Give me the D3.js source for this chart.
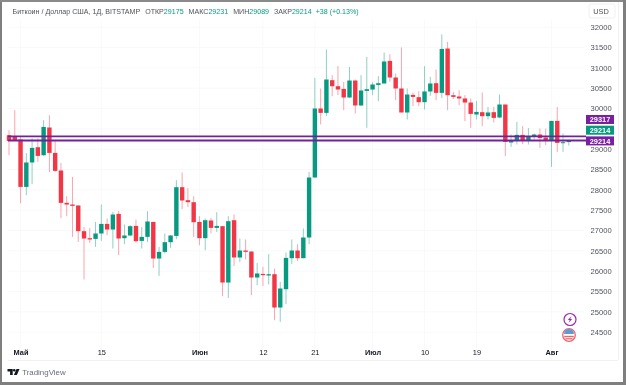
<!DOCTYPE html>
<html><head><meta charset="utf-8">
<script src="https://cdn.jsdelivr.net/npm/d3@7"></script>
<style>
html,body{margin:0;padding:0;background:#fff}
svg{display:block;filter:blur(0.3px)}
text{font-family:"Liberation Sans",Arial,sans-serif}
</style></head><body><svg id="c" width="626" height="385"></svg>
<script>
const opens=[29344,29303,29239,28073,28673,29049,28852,29534,28909,28476,
27680,27640,27616,26984,26812,26794,26927,27163,27025,27409,
26812,26878,27114,26745,26844,27212,26312,26475,26713,26868,
28066,27746,27697,27212,26812,27247,27065,27107,25722,27254,
26337,26509,26484,25845,25934,25894,25926,25107,25557,26320,
26509,26320,26829,28304,30001,29893,30697,30549,30483,30271,
30689,30075,30434,30468,30581,30616,31171,30763,30493,29903,
30335,30279,30156,30419,30623,30385,31476,30328,30296,30247,
30148,29853,29910,29812,29910,29780,30099,29165,29214,29352,
29214,29320,29362,29288,29214,29696,29155,29175];
const closes=[29204,29221,28073,28673,29032,28835,29548,28909,28467,27680,
27640,27606,26984,26804,26780,26927,27163,27025,27394,26804,
26878,27107,26738,26844,27222,26312,26475,26713,26878,28066,
27739,27697,27205,26812,27254,27065,27114,25722,27230,26337,
26509,26475,25845,25944,25902,25926,25107,25575,26327,26509,
26320,26829,28304,30001,29893,30714,30549,30468,30271,30689,
30075,30444,30476,30591,30623,31157,30763,30493,29903,30345,
30286,30156,30419,30616,30385,31466,30328,30286,30247,30148,
29868,29917,29812,29903,29770,30099,29179,29214,29352,29214,
29320,29362,29271,29214,29696,29155,29172,29214];
const highs=[29467,29959,29303,28902,29271,29271,29713,29836,29204,28663,
27844,28319,27623,27089,27057,27212,27640,27296,27458,27483,
27148,27131,27271,27089,27476,27212,26598,26927,26885,28238,
28427,28048,27844,27353,27296,27311,27451,27107,27353,27394,
26804,26780,26484,26204,26106,26418,26066,25737,26460,26780,
26664,27050,28442,30753,30493,31452,30820,31048,30655,31024,
30714,30820,31270,30655,30795,31378,31336,30862,31501,30493,
30394,30426,31041,30778,30960,31821,31639,30409,30451,30328,
30247,30188,30394,30040,30040,30345,30099,29362,29671,29566,
29524,29386,29509,29509,29696,30040,29386,29231];
const lows=[28852,29221,27672,27869,28139,28688,28835,28434,28442,27303,
27353,26844,26721,25796,26696,26598,26745,26885,26558,26394,
26664,26861,26706,26558,26721,26081,25884,26435,26573,26787,
27525,27581,26844,26639,26516,26927,26967,25385,25344,26131,
26229,26288,25410,25656,25639,25673,24795,24754,25188,26180,
26253,26320,26664,28304,29607,29812,30303,30328,29959,30262,
29878,30057,29524,30328,30180,30616,30655,30205,29903,29730,
30057,30057,29976,30311,30205,30262,29959,30230,30082,29689,
29524,29730,29566,29730,29657,29762,28828,29057,29116,29123,
29116,29239,29032,29098,28565,28934,28934,29089];
const gridTicks=[24500,25000,25500,26000,26500,27000,27500,28000,28500,29000,29500,30000,30500,31000,31500,32000];
const priceTicks=[24500,25000,25500,26000,26500,27000,27500,28000,28500,29000,30000,30500,31000,31500,32000];
const dateTickIndex=[2,16,33,44,53,63,72,81,94];
const dateTickLabels=["Май","15","Июн","12","21","Июл","10","19","Авг"];
const boldDateLabels=["Май","Июн","Июл","Авг"];
const levelLines=[29317,29214];
const priceTags=[{label:"29317",fill:"#7b1fa2"},{label:"29214",fill:"#089981"},{label:"29214",fill:"#7b1fa2"}];
const headerParts=[["Биткоин / Доллар США, 1Д, BITSTAMP","#50535e",0],["ОТКР","#50535e",5],["29175","#089981",0],["МАКС","#50535e",5],["29231","#089981",0],["МИН","#50535e",5],["29089","#089981",0],["ЗАКР","#50535e",5],["29214","#089981",0],["+38 (+0.13%)","#089981",4]];

const UP="#089981",DOWN="#f23645",UPW="#8fd0c4",DOWNW="#f7a6ae",PURPLE="#74209c";
const svg=d3.select("#c");
const y=d3.scaleLinear().domain([24500,32000]).range([332.2,27.2]);
const x=d3.scaleLinear().domain([0,97]).range([9,568.8]);
const idx=d3.range(opens.length);

// outer frame
svg.append("rect").attr("width",626).attr("height",385).attr("fill","#fff");
svg.append("rect").attr("x",0).attr("y",0).attr("width",2).attr("height",385).attr("fill","#7f7f7f");
svg.append("rect").attr("x",0).attr("y",0).attr("width",626).attr("height",2).attr("fill","#8a8a8a");
svg.append("rect").attr("x",0).attr("y",382).attr("width",626).attr("height",3).attr("fill","#7f7f7f");
svg.append("rect").attr("x",623).attr("y",0).attr("width",3).attr("height",385).attr("fill","#7f7f7f");

// grid
const plotL=8,plotR=584,plotT=20,plotB=360;
const g=svg.append("g");
g.selectAll("line.h").data(gridTicks).join("line").attr("class","h")
 .attr("x1",plotL).attr("x2",plotR).attr("y1",d=>y(d)).attr("y2",d=>y(d)).attr("stroke","#f8f9fb");
g.selectAll("line.v").data(dateTickIndex).join("line").attr("class","v")
 .attr("x1",d=>x(d)).attr("x2",d=>x(d)).attr("y1",plotT).attr("y2",plotB).attr("stroke","#f8f9fb");
svg.append("line").attr("x1",plotL).attr("x2",618).attr("y1",plotB+0.5).attr("y2",plotB+0.5).attr("stroke","#f0f1f3");
svg.append("line").attr("x1",618.5).attr("x2",618.5).attr("y1",2).attr("y2",plotB).attr("stroke","#f0f1f3");
svg.append("rect").attr("x",589).attr("y",4).attr("width",26).attr("height",14).attr("rx",2).attr("fill","#fff").attr("stroke","#f0f1f3");

// candles
const bw=4.4;
const isUp=i=>closes[i]>=opens[i];
svg.append("g").selectAll("line").data(idx).join("line")
 .attr("x1",i=>x(i)).attr("x2",i=>x(i)).attr("y1",i=>y(highs[i])).attr("y2",i=>y(lows[i]))
 .attr("stroke",i=>isUp(i)?UPW:DOWNW).attr("stroke-width",1);
svg.append("g").selectAll("rect").data(idx).join("rect")
 .attr("x",i=>x(i)-bw/2).attr("width",bw)
 .attr("y",i=>Math.min(y(opens[i]),y(closes[i])))
 .attr("height",i=>Math.max(1,Math.abs(y(opens[i])-y(closes[i]))))
 .attr("fill",i=>isUp(i)?UP:DOWN);

// level lines
svg.append("g").selectAll("line").data(levelLines).join("line")
 .attr("x1",plotL).attr("x2",586).attr("y1",d=>y(d)).attr("y2",d=>y(d))
 .attr("stroke",PURPLE).attr("stroke-width",1.8);

// axes
const yAxis=d3.axisRight(y).tickValues(priceTicks).tickSize(0).tickPadding(0).tickFormat(d3.format("d"));
const ya=svg.append("g").attr("transform","translate(590.5,0)").call(yAxis);
ya.select(".domain").remove();
ya.selectAll("text").attr("font-size",7.6).attr("fill","#50535e").attr("font-family","Liberation Sans");

const xAxis=d3.axisBottom(x).tickValues(dateTickIndex).tickSize(0).tickPadding(0)
 .tickFormat((d,i)=>dateTickLabels[i]);
const xa=svg.append("g").attr("transform","translate(0,349.5)").call(xAxis);
xa.select(".domain").remove();
xa.selectAll("text").attr("font-size",7.4).attr("fill","#131722")
 .attr("font-family","Liberation Sans")
 .attr("font-weight",(d,i)=>boldDateLabels.includes(dateTickLabels[i])?700:400);

// price tags
const tagG=svg.append("g").selectAll("g").data(priceTags).join("g")
 .attr("transform",(d,i)=>`translate(586,${115+i*10.7})`);
tagG.append("rect").attr("width",28).attr("height",9).attr("fill",d=>d.fill);
tagG.append("text").attr("x",14).attr("y",7.2).attr("text-anchor","middle")
 .attr("font-size",7.4).attr("font-weight",700).attr("fill","#fff").text(d=>d.label);

// header
const head=svg.append("text").attr("x",12.6).attr("y",13.8).attr("font-size",7.1);
headerParts.forEach(p=>head.append("tspan").attr("dx",p[2]).attr("fill",p[1]).text(p[0]));
svg.append("text").attr("x",601).attr("y",14).attr("text-anchor","middle").attr("font-size",7.4).attr("fill","#50535e").text("USD");

// icons
const ic=svg.append("g").attr("transform","translate(570,319.5)");
ic.append("circle").attr("r",6).attr("fill","#fff").attr("stroke","#9c27b0").attr("stroke-width",1.2);
ic.append("path").attr("d","M1.5,-3.5 L-2.2,0.6 L-0.2,0.6 L-1.5,3.5 L2.2,-0.6 L0.2,-0.6 Z").attr("fill","#9c27b0");
const fl=svg.append("g").attr("transform","translate(569,335)");
fl.append("circle").attr("r",6.3).attr("fill","#fff").attr("stroke","#f0636c").attr("stroke-width",1.3);
fl.append("path").attr("d","M-5,-1 A5,5 0 0 1 5,-1 Z").attr("fill","#5b9bd8");
fl.append("rect").attr("x",-4.8).attr("y",0.8).attr("width",9.6).attr("height",1.4).attr("fill","#f0636c");
fl.append("rect").attr("x",-3.6).attr("y",3.2).attr("width",7.2).attr("height",1.2).attr("fill","#f0636c");

// TradingView logo
const tv=svg.append("g").attr("transform","translate(7.5,369)");
tv.append("path").attr("d","M0,0 H5.2 V6 H2.6 V2.4 H0 Z").attr("fill","#131722");
tv.append("circle").attr("cx",6.7).attr("cy",1.3).attr("r",1.3).attr("fill","#131722");
tv.append("path").attr("d","M9,0 H12 L9.4,6 H6.4 Z").attr("fill","#131722");
svg.append("text").attr("x",22.2).attr("y",375).attr("font-size",7.9).attr("fill","#6a6d78").text("TradingView");
</script></body></html>
